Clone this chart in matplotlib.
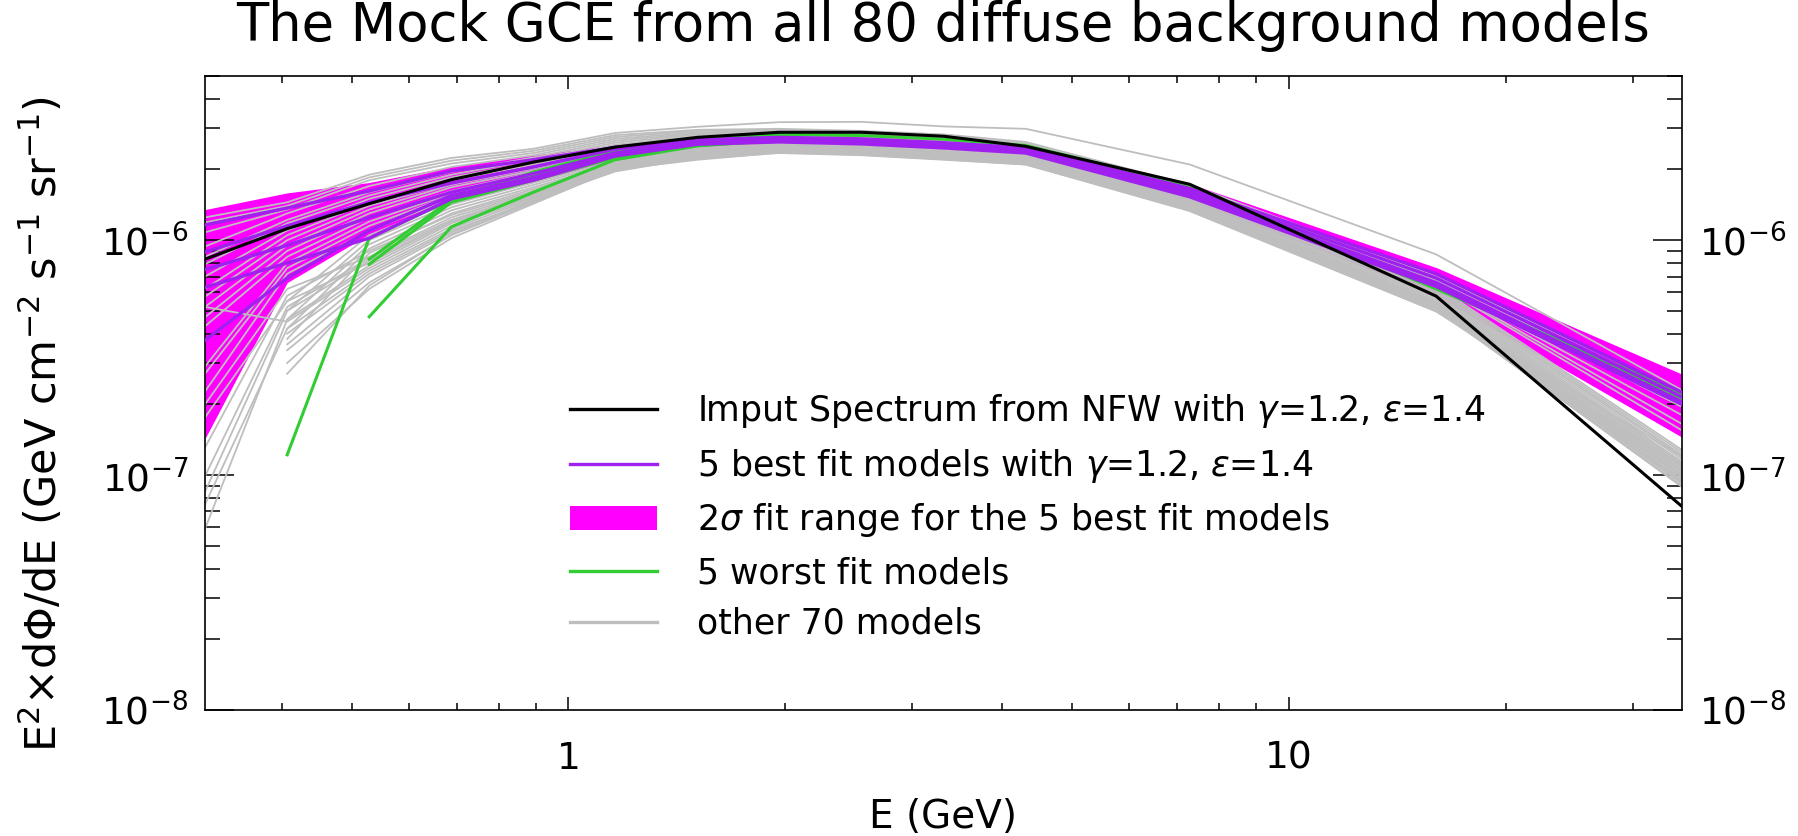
import numpy as np
import matplotlib.pyplot as plt
from matplotlib.lines import Line2D
from matplotlib.patches import Patch
from matplotlib.ticker import FuncFormatter, NullFormatter, LogLocator

plt.rcParams['font.family'] = 'DejaVu Sans'
plt.rcParams['mathtext.fontset'] = 'dejavusans'

nan = np.nan
# bin centres (GeV)
energy = [0.313, 0.407, 0.529, 0.688, 0.894, 1.16, 1.51, 1.96, 2.55, 3.32, 4.31, 7.28, 16.0, 35.1]
unit = 1e-6  # all spectra below are in units of 1e-6 GeV cm^-2 s^-1 sr^-1

input_spec = [0.83, 1.12, 1.43, 1.81, 2.15, 2.49, 2.74, 2.88, 2.88, 2.77, 2.51, 1.73, 0.578, 0.0735]

best_fit = [
    [1.16, 1.37, 1.62, 1.97, 2.20, 2.48, 2.68, 2.74, 2.70, 2.60, 2.47, 1.66, 0.72, 0.225],
    [0.89, 1.15, 1.45, 1.75, 2.05, 2.44, 2.65, 2.72, 2.68, 2.57, 2.44, 1.62, 0.69, 0.215],
    [0.75, 0.95, 1.25, 1.60, 1.92, 2.35, 2.62, 2.68, 2.64, 2.53, 2.40, 1.58, 0.66, 0.205],
    [0.375, 0.69, 1.10, 1.55, 1.85, 2.30, 2.58, 2.65, 2.60, 2.50, 2.37, 1.55, 0.64, 0.200],
    [0.63, 0.80, 1.02, 1.50, 1.80, 2.28, 2.56, 2.62, 2.57, 2.47, 2.35, 1.53, 0.635, 0.202],
]
band_lo = [
    [0.95, 1.20, 1.50, 1.85, 2.12, 2.42, 2.63, 2.70, 2.66, 2.56, 2.43, 1.60, 0.67, 0.195],
    [0.60, 0.95, 1.30, 1.62, 1.95, 2.36, 2.60, 2.67, 2.63, 2.53, 2.40, 1.57, 0.64, 0.180],
    [0.45, 0.75, 1.12, 1.50, 1.83, 2.27, 2.55, 2.63, 2.59, 2.49, 2.35, 1.52, 0.61, 0.165],
    [0.143, 0.66, 1.06, 1.45, 1.76, 2.20, 2.50, 2.58, 2.53, 2.44, 2.30, 1.48, 0.59, 0.150],
    [0.30, 0.68, 1.08, 1.48, 1.78, 2.22, 2.52, 2.60, 2.55, 2.46, 2.32, 1.50, 0.58, 0.145],
]
band_hi = [
    [1.35, 1.59, 1.76, 2.06, 2.30, 2.55, 2.73, 2.78, 2.74, 2.64, 2.51, 1.74, 0.765, 0.269],
    [1.15, 1.35, 1.60, 1.90, 2.18, 2.52, 2.70, 2.76, 2.72, 2.62, 2.48, 1.70, 0.74, 0.250],
    [1.05, 1.20, 1.40, 1.72, 2.02, 2.44, 2.68, 2.74, 2.70, 2.59, 2.45, 1.65, 0.71, 0.240],
    [0.75, 0.95, 1.25, 1.65, 1.95, 2.40, 2.66, 2.72, 2.68, 2.57, 2.43, 1.62, 0.69, 0.230],
    [0.90, 1.00, 1.30, 1.68, 1.98, 2.42, 2.66, 2.72, 2.68, 2.57, 2.43, 1.63, 0.695, 0.235],
]

worst_fit = [
    [nan, 0.122, 1.02, 1.49, 1.95, 2.40, 2.70, 2.82, 2.79, 2.69, 2.53, 1.71, 0.62, 0.225],
    [nan, nan, 0.472, 1.14, 1.60, 2.20, 2.52, 2.66, 2.62, 2.52, 2.40, 1.60, 0.64, 0.215],
    [nan, nan, 0.83, 1.49, 1.85, 2.28, 2.56, 2.68, 2.64, 2.54, 2.41, 1.61, 0.63, 0.218],
    [nan, nan, 0.79, 1.45, 1.80, 2.25, 2.53, 2.66, 2.62, 2.52, 2.39, 1.59, 0.645, 0.212],
    [nan, nan, nan, 1.52, 1.90, 2.32, 2.60, 2.70, 2.66, 2.56, 2.42, 1.62, 0.635, 0.220],
]

other = [
    [1.25, 1.45, 1.90, 2.24, 2.45, 2.86, 3.04, 3.18, 3.19, 3.05, 2.98, 2.10, 0.87, 0.23],
    [1.19, 1.40, 1.85, 2.18, 2.40, 2.80, 2.95, 2.98, 2.92, 2.82, 2.62, 1.72, 0.70, 0.225],
    [1.08, 1.35, 1.80, 2.12, 2.35, 2.75, 2.92, 2.95, 2.90, 2.80, 2.58, 1.70, 0.68, 0.21],
    [0.94, 1.30, 1.70, 2.05, 2.30, 2.70, 2.88, 2.92, 2.86, 2.76, 2.55, 1.68, 0.67, 0.195],
    [0.85, 1.22, 1.60, 1.95, 2.25, 2.65, 2.85, 2.90, 2.84, 2.73, 2.52, 1.66, 0.66, 0.18],
    [0.79, 1.18, 1.55, 1.90, 2.20, 2.60, 2.82, 2.88, 2.82, 2.70, 2.50, 1.64, 0.655, 0.165],
    [0.70, 1.10, 1.50, 1.85, 2.15, 2.55, 2.78, 2.85, 2.80, 2.68, 2.48, 1.62, 0.65, 0.155],
    [0.62, 1.05, 1.45, 1.80, 2.10, 2.50, 2.75, 2.82, 2.77, 2.65, 2.46, 1.60, 0.64, 0.128],
    [0.575, 1.00, 1.40, 1.75, 2.05, 2.45, 2.72, 2.80, 2.75, 2.62, 2.44, 1.58, 0.63, 0.125],
    [0.52, 0.95, 1.35, 1.72, 2.02, 2.42, 2.68, 2.76, 2.72, 2.60, 2.42, 1.56, 0.62, 0.122],
    [0.47, 0.90, 1.30, 1.68, 1.98, 2.40, 2.65, 2.73, 2.68, 2.57, 2.40, 1.55, 0.61, 0.12],
    [0.43, 0.85, 1.25, 1.62, 1.95, 2.37, 2.62, 2.70, 2.65, 2.55, 2.38, 1.53, 0.60, 0.117],
    [0.29, 0.80, 1.20, 1.58, 1.92, 2.34, 2.60, 2.68, 2.62, 2.52, 2.36, 1.52, 0.59, 0.114],
    [0.27, 0.76, 1.15, 1.55, 1.88, 2.30, 2.56, 2.65, 2.60, 2.50, 2.34, 1.50, 0.58, 0.112],
    [0.227, 0.72, 1.10, 1.50, 1.85, 2.26, 2.52, 2.62, 2.57, 2.47, 2.32, 1.48, 0.57, 0.11],
    [nan, 0.55, 1.05, 1.46, 1.80, 2.22, 2.48, 2.58, 2.54, 2.44, 2.30, 1.46, 0.56, 0.108],
    [nan, 0.50, 1.00, 1.42, 1.76, 2.18, 2.45, 2.55, 2.50, 2.40, 2.27, 1.45, 0.55, 0.106],
    [nan, 0.46, 0.96, 1.38, 1.72, 2.15, 2.42, 2.52, 2.47, 2.38, 2.25, 1.44, 0.545, 0.104],
    [nan, 0.42, 0.92, 1.34, 1.68, 2.12, 2.40, 2.50, 2.45, 2.36, 2.23, 1.43, 0.54, 0.102],
    [nan, 0.38, 0.88, 1.30, 1.65, 2.10, 2.37, 2.48, 2.43, 2.34, 2.21, 1.42, 0.535, 0.10],
    [0.20, 0.62, 0.85, 1.25, 1.60, 2.06, 2.34, 2.45, 2.40, 2.31, 2.19, 1.41, 0.53, 0.099],
    [0.176, 0.55, 0.80, 1.20, 1.56, 2.03, 2.32, 2.43, 2.38, 2.29, 2.17, 1.40, 0.525, 0.098],
    [0.52, 0.45, 0.76, 1.15, 1.52, 2.00, 2.30, 2.40, 2.36, 2.27, 2.15, 1.39, 0.52, 0.096],
    [0.131, 0.58, 0.90, 1.28, 1.62, 2.08, 2.35, 2.46, 2.42, 2.33, 2.20, 1.42, 0.53, 0.094],
    [0.099, 0.52, 0.84, 1.22, 1.58, 2.05, 2.33, 2.44, 2.40, 2.30, 2.18, 1.40, 0.52, 0.092],
    [0.085, 0.50, 0.82, 1.20, 1.55, 2.04, 2.31, 2.43, 2.38, 2.29, 2.17, 1.39, 0.52, 0.093],
    [0.075, 0.42, 0.74, 1.12, 1.50, 1.98, 2.28, 2.39, 2.35, 2.25, 2.13, 1.37, 0.51, 0.089],
    [0.059, 0.46, 0.78, 1.18, 1.54, 2.02, 2.30, 2.42, 2.37, 2.28, 2.16, 1.38, 0.515, 0.090],
    [nan, 0.36, 0.70, 1.08, 1.48, 1.96, 2.25, 2.37, 2.32, 2.22, 2.11, 1.36, 0.505, 0.095],
    [nan, 0.34, 0.66, 1.05, 1.45, 2.00, 2.22, 2.35, 2.30, 2.20, 2.10, 1.35, 0.50, 0.10],
    [nan, 0.40, 0.72, 1.10, 1.46, 2.02, 2.27, 2.38, 2.33, 2.24, 2.12, 1.34, 0.50, 0.105],
    [nan, 0.30, 0.62, 1.02, 1.43, 2.00, 2.20, 2.36, 2.31, 2.21, 2.10, 1.33, 0.497, 0.11],
    [nan, 0.27, 0.64, 1.06, 1.47, 2.05, 2.24, 2.40, 2.34, 2.25, 2.14, 1.36, 0.51, 0.12],
]

labels = [r'Imput Spectrum from NFW with $\gamma$=1.2, $\epsilon$=1.4',
          r'5 best fit models with $\gamma$=1.2, $\epsilon$=1.4',
          r'2$\sigma$ fit range for the 5 best fit models',
          '5 worst fit models',
          'other 70 models']

c_black, c_purple, c_mag, c_green, c_grey = 'black', '#A020F0', '#FF00FF', '#32CD32', '#BEBEBE'

W, H = 1799, 836
fig = plt.figure(figsize=(W / 100, H / 100), dpi=100)
ax = fig.add_axes([205 / W, 1 - 710 / H, 1477 / W, 634 / H])

e = np.array(energy)
for lo, hi in zip(band_lo, band_hi):
    ax.fill_between(e, np.array(lo) * unit, np.array(hi) * unit, color=c_mag, lw=0, zorder=1)
for s in other:
    ax.plot(e, np.array(s) * unit, color=c_grey, lw=1.3, zorder=2)
for s in worst_fit:
    ax.plot(e, np.array(s) * unit, color=c_green, lw=2.2, zorder=3)
for s in best_fit:
    ax.plot(e, np.array(s) * unit, color=c_purple, lw=2.4, zorder=4)
ax.plot(e, np.array(input_spec) * unit, color=c_black, lw=2.2, zorder=5)

ax.set_xscale('log')
ax.set_yscale('log')
ax.set_xlim(energy[0], energy[-1])
ax.set_ylim(1e-8, 5e-6)

ax.xaxis.set_major_formatter(FuncFormatter(lambda v, p: f'{v:g}'))
ax.xaxis.set_minor_formatter(NullFormatter())
ax.yaxis.set_minor_locator(LogLocator(base=10, subs=np.arange(2, 10)))
ax.yaxis.set_minor_formatter(NullFormatter())

ax.tick_params(axis='both', which='both', direction='in', top=True, right=True,
               labelright=True, width=1.1, colors='black', labelsize=27)
ax.tick_params(axis='x', which='major', length=9.5, pad=22)
ax.tick_params(axis='x', which='minor', length=5)
ax.tick_params(axis='y', which='major', length=21, pad=12)
ax.tick_params(axis='y', which='minor', length=11)
for sp in ax.spines.values():
    sp.set_linewidth(1.2)

fig.text(943 / W, 1 - 41 / H, 'The Mock GCE from all 80 diffuse background models',
         ha='center', va='baseline', fontsize=38)
fig.text(42 / W, 1 - 424 / H, r'E$^2$×dΦ/dE (GeV cm$^{-2}$ s$^{-1}$ sr$^{-1}$)',
         rotation=90, ha='center', va='center', fontsize=31)
fig.text(943 / W, 1 - 817 / H, 'E (GeV)', ha='center', va='center', fontsize=28)

handles = [Line2D([], [], color=c_black, lw=2.4),
           Line2D([], [], color=c_purple, lw=2.4),
           Patch(facecolor=c_mag, edgecolor='none'),
           Line2D([], [], color=c_green, lw=2.4),
           Line2D([], [], color=c_grey, lw=2.4)]
ax.legend(handles, labels, loc='upper left', bbox_to_anchor=(570 / W, 1 - 392 / H),
          bbox_transform=fig.transFigure, frameon=False, fontsize=25,
          handlelength=2.5, handletextpad=1.15, labelspacing=0.48,
          borderpad=0, borderaxespad=0)

fig.savefig('out.png', dpi=100)
